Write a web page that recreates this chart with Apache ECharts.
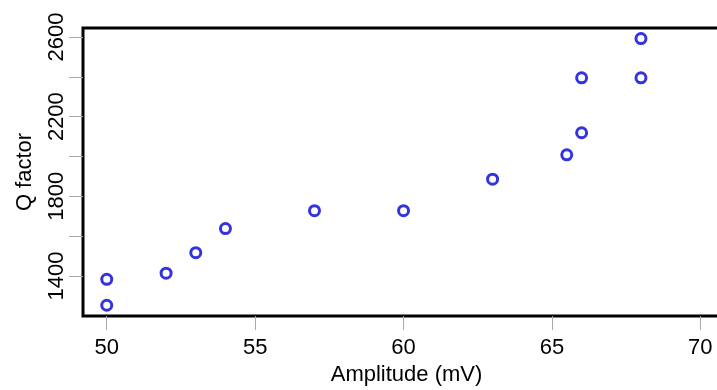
<!DOCTYPE html>
<html>
<head>
<meta charset="utf-8">
<script src="https://cdn.jsdelivr.net/npm/echarts@6/dist/echarts.min.js"></script>
<style>
html,body{margin:0;padding:0;background:#fff;}
#c{width:717px;height:390px;}
</style>
</head>
<body>
<div id="c"></div>
<script>
var amplitude = [50, 50, 52, 53, 54, 57, 60, 63, 65.5, 66, 66, 68, 68];
var qFactor   = [1383, 1253, 1414, 1517, 1638, 1728, 1728, 1886, 2008, 2119, 2395, 2395, 2592];
var xTicks = [50, 55, 60, 65, 70];
var yTicks = [1400, 1600, 1800, 2000, 2200, 2400, 2600];
var yLabels = [1400, 1800, 2200, 2600];

var pts = amplitude.map(function (a, i) { return [a, qFactor[i]]; });
var font = 'Liberation Sans, Arial, sans-serif';

var chart = echarts.init(document.getElementById('c'));
chart.setOption({
  backgroundColor: '#fff',
  animation: false,
  grid: {
    left: 83, top: 28, bottom: 74, right: -13,
    outerBoundsMode: 'none', containLabel: false,
    show: true, borderColor: '#000', borderWidth: 3, backgroundColor: 'transparent'
  },
  xAxis: {
    type: 'value', min: 49.2, max: 71,
    name: 'Amplitude (mV)', nameLocation: 'middle', nameGap: 48,
    nameTextStyle: { fontFamily: font, fontSize: 22, color: '#000' },
    axisLine: { show: false },
    splitLine: { show: false },
    axisTick: { show: true, customValues: xTicks, length: 14, lineStyle: { color: '#aaa', width: 1 } },
    axisLabel: { customValues: xTicks, margin: 21, fontFamily: font, fontSize: 22, color: '#000',
      formatter: function (v) { return String(v); } }
  },
  yAxis: {
    type: 'value', min: 1199, max: 2645,
    name: 'Q factor', nameLocation: 'middle', nameGap: 47, nameRotate: 90,
    nameTextStyle: { fontFamily: font, fontSize: 22, color: '#000' },
    axisLine: { show: false },
    splitLine: { show: false },
    axisTick: { show: true, customValues: yTicks, length: 14, lineStyle: { color: '#aaa', width: 1 } },
    axisLabel: { customValues: yLabels, rotate: 90, margin: 15, fontFamily: font, fontSize: 22, color: '#000',
      formatter: function (v) { return String(v); } }
  },
  series: [{
    type: 'scatter',
    data: pts,
    symbol: 'circle',
    symbolSize: 10,
    itemStyle: { color: '#fff', borderColor: '#0000d8', borderWidth: 3 }
  }]
});
</script>
</body>
</html>
